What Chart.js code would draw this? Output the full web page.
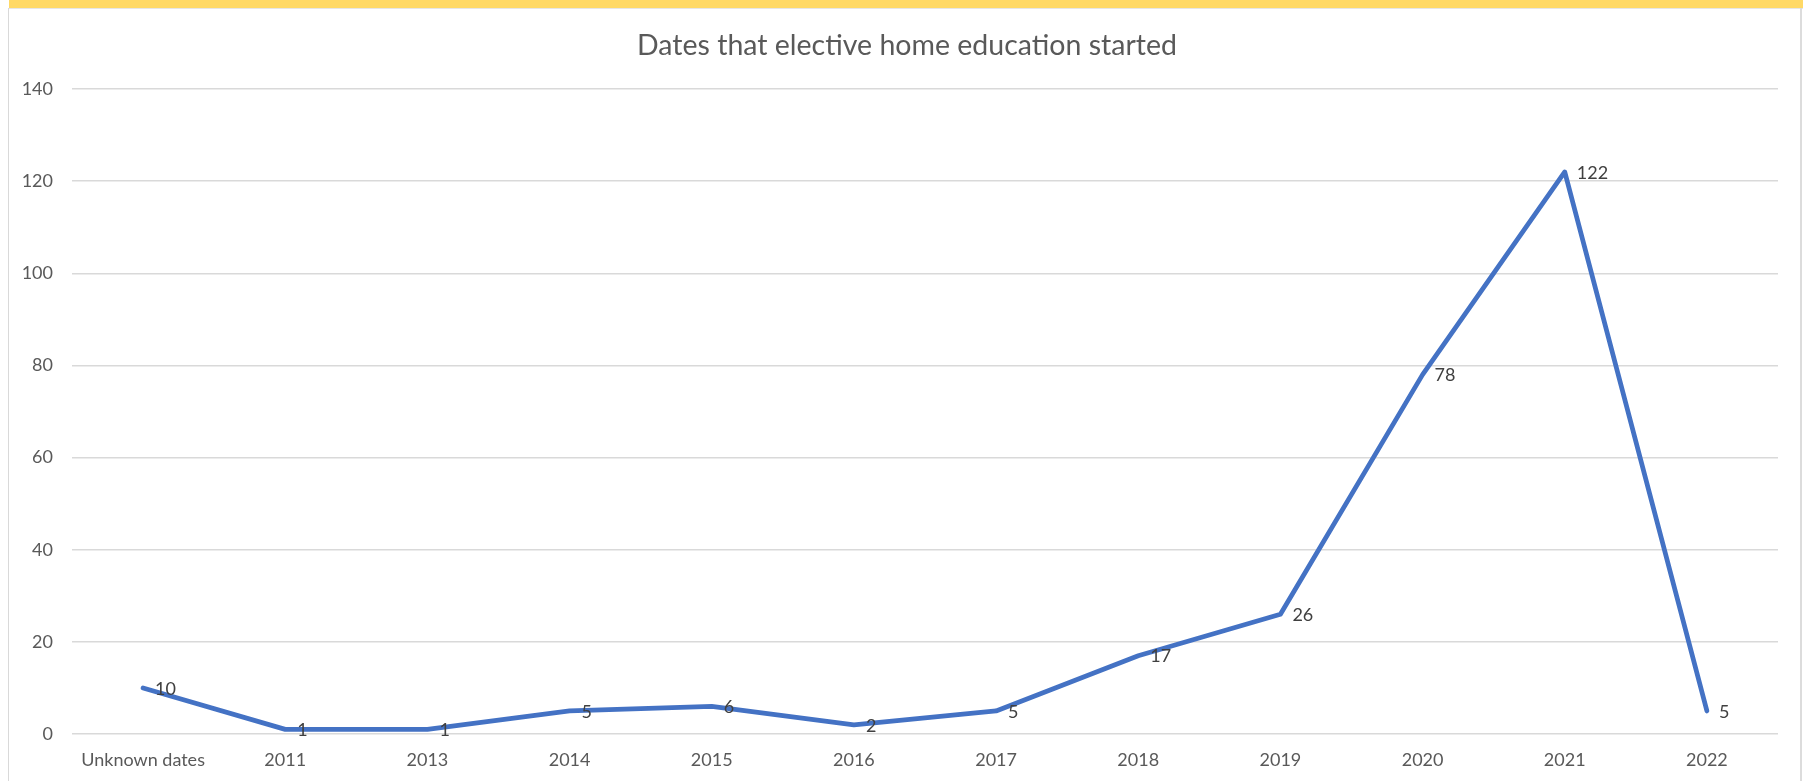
<!DOCTYPE html>
<html>
<head>
<meta charset="utf-8">
<script src="https://cdn.jsdelivr.net/npm/chart.js@4/dist/chart.umd.min.js"></script>
<style>
  body { margin: 0; background: #ffffff; }
  #wrap { position: relative; width: 1803px; height: 781px; overflow: hidden; }
  #band { position: absolute; left: 9px; top: 0; width: 1794px; height: 8px; background: #ffd966; border-bottom: 1px solid #e6e6e6; }
  #leftLine { position: absolute; left: 8px; top: 8px; width: 1px; height: 773px; background: #d9d9d9; }
  #rightLine { position: absolute; left: 1800px; top: 8px; width: 2px; height: 773px; background: #dcdcdc; }
  canvas { position: absolute; left: 0; top: 0; }
</style>
</head>
<body>
<div id="wrap">
  <canvas id="chart" width="1803" height="781"></canvas>
  <div id="band"></div>
  <div id="leftLine"></div>
  <div id="rightLine"></div>
</div>
<script>
// データ
const categories = ["Unknown dates", "2011", "2013", "2014", "2015", "2016", "2017", "2018", "2019", "2020", "2021", "2022"];
const counts = [10, 1, 1, 5, 6, 2, 5, 17, 26, 78, 122, 5];
const chartTitle = "Dates that elective home education started";

const textColor = "#595959";
const fontFamily = "Lato, 'Open Sans', sans-serif";

// 点の右側に値を描くプラグイン
const valueLabels = {
  id: "valueLabels",
  afterDatasetsDraw(chart) {
    const ctx = chart.ctx;
    const meta = chart.getDatasetMeta(0);
    ctx.save();
    ctx.font = "18px " + fontFamily;
    ctx.fillStyle = "#404040";
    ctx.textAlign = "left";
    ctx.textBaseline = "middle";
    meta.data.forEach(function (pt, i) {
      ctx.fillText(String(counts[i]), pt.x + 12, pt.y + 1);
    });
    ctx.restore();
  },
};

// タイトルを枠の中央に寄せる（少し右へずらす）
const shiftTitle = {
  id: "shiftTitle",
  afterLayout(chart) {
    if (chart.titleBlock) {
      chart.titleBlock.left += 18;
      chart.titleBlock.right += 18;
    }
  },
};

const chartCanvas = document.getElementById("chart");
new Chart(chartCanvas, {
  type: "line",
  data: {
    labels: categories,
    datasets: [
      {
        label: "Count",
        data: counts,
        borderColor: "#4472c4",
        backgroundColor: "#4472c4",
        borderWidth: 4.75,
        borderCapStyle: "round",
        borderJoinStyle: "round",
        tension: 0,
        pointRadius: 0,
        pointHoverRadius: 0,
      },
    ],
  },
  options: {
    responsive: false,
    animation: false,
    layout: { padding: { left: 0, right: 25, top: 0, bottom: 0 } },
    plugins: {
      legend: { display: false },
      tooltip: { enabled: false },
      title: {
        display: true,
        text: chartTitle,
        color: textColor,
        font: { family: fontFamily, size: 28.5, weight: "normal" },
        padding: { top: 28.5, bottom: 26.3 },
      },
    },
    scales: {
      x: {
        offset: true,
        grid: { display: false, drawTicks: false },
        border: { display: false },
        ticks: {
          color: textColor,
          font: { family: fontFamily, size: 18 },
          padding: 15,
          maxRotation: 0,
          autoSkip: false,
        },
        afterFit(scale) {
          scale.height = 47;
        },
      },
      y: {
        min: 0,
        max: 140,
        grid: { color: "#d9d9d9", lineWidth: 1.5, drawTicks: false },
        border: { display: false },
        ticks: {
          stepSize: 20,
          color: textColor,
          font: { family: fontFamily, size: 18 },
          padding: 19,
        },
        afterFit(scale) {
          scale.width = 72;
        },
      },
    },
  },
  plugins: [valueLabels, shiftTitle],
});
</script>
</body>
</html>
